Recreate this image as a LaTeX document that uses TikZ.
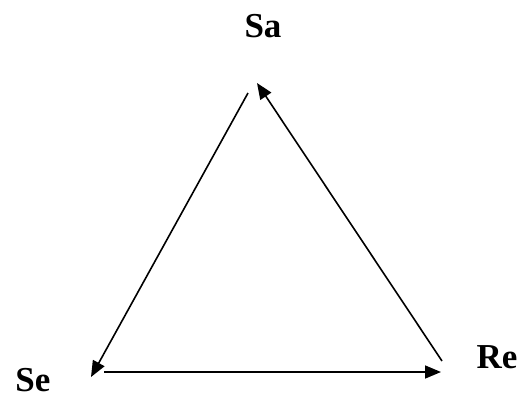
\documentclass[tikz,border=0pt]{standalone}
\usepackage{fontspec}
\setmainfont{Liberation Serif}
\usetikzlibrary{arrows.meta}
\tikzset{
  lbl/.style={font=\fontsize{35}{40}\selectfont\bfseries, inner sep=0pt},
  conn/.style={line width=1.6pt, -{Triangle[length=16pt,width=13pt]}}
}
\begin{document}
\begin{tikzpicture}[x=1pt,y=-1pt]
\useasboundingbox (0,0) rectangle (522,397);
\node[lbl] (Sa) at (263,26) {Sa};
\node[lbl] (Se) at (33,380) {Se};
\node[lbl] (Re) at (497,357) {Re};
\coordinate (a1) at (248,93);
\coordinate (a2) at (91,377);
\coordinate (b1) at (104,372);
\coordinate (b2) at (441,372);
\coordinate (c1) at (442,361);
\coordinate (c2) at (257,83);
\draw[conn] (a1) -- (a2);
\draw[conn] (b1) -- (b2);
\draw[conn] (c1) -- (c2);
\end{tikzpicture}
\end{document}
